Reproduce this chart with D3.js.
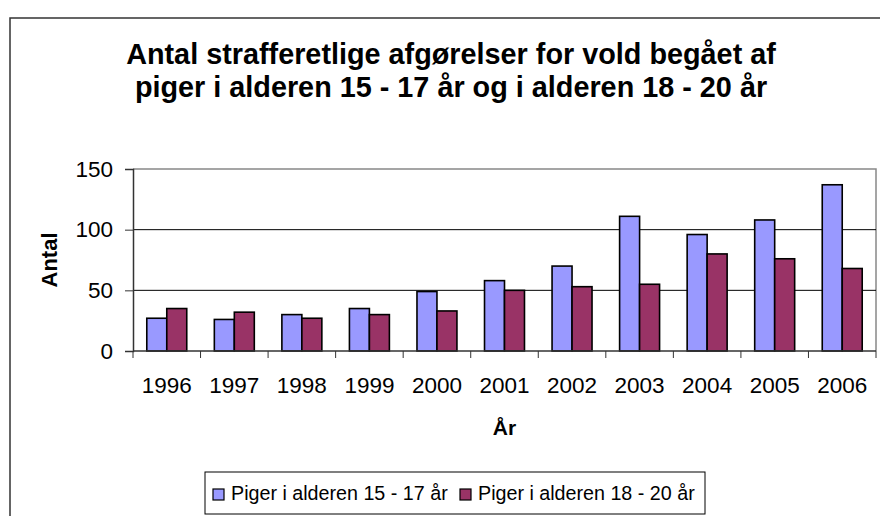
<!DOCTYPE html>
<html>
<head>
<meta charset="utf-8">
<script src="https://cdn.jsdelivr.net/npm/d3@7"></script>
<style>
  body { margin: 0; background: #fff; }
  svg { display: block; font-family: "Liberation Sans", Arial, Helvetica, sans-serif; }
</style>
</head>
<body>
<div id="chart"></div>
<script>
// Data
const years = ["1996", "1997", "1998", "1999", "2000", "2001", "2002", "2003", "2004", "2005", "2006"];
const seriesNames = ["Piger i alderen 15 - 17 år", "Piger i alderen 18 - 20 år"];
const girls15to17 = [27, 26, 30, 35, 49, 58, 70, 111, 96, 108, 137];
const girls18to20 = [35, 32, 27, 30, 33, 50, 53, 55, 80, 76, 68];
const yTicks = [0, 50, 100, 150];
const colors = ["#9999ff", "#993366"];

const width = 880, height = 516;
const plot = { left: 133, right: 876, top: 169, bottom: 351 };

const svg = d3.select("#chart").append("svg")
    .attr("width", width)
    .attr("height", height);

// outer chart frame
svg.append("rect")
    .attr("x", 10).attr("y", 18)
    .attr("width", 890).attr("height", 520)
    .attr("fill", "#fff")
    .attr("stroke", "#333").attr("stroke-width", 1.5);

// title
const title = svg.append("text")
    .attr("text-anchor", "middle")
    .attr("font-size", 28.8)
    .attr("font-weight", "bold");
title.append("tspan").attr("x", 451).attr("y", 64)
    .text("Antal strafferetlige afgørelser for vold begået af");
title.append("tspan").attr("x", 451).attr("y", 97)
    .text("piger i alderen 15 - 17 år og i alderen 18 - 20 år");

// scales
const x = d3.scaleBand()
    .domain(years)
    .range([plot.left, plot.right])
    .paddingInner(0).paddingOuter(0);

const xSub = d3.scaleBand()
    .domain([0, 1])
    .range([0, x.bandwidth()])
    .paddingInner(0)
    .paddingOuter(0.69);

const y = d3.scaleLinear()
    .domain([0, 150])
    .range([plot.bottom, plot.top]);

// plot area border (top + right)
svg.append("path")
    .attr("d", `M${plot.left},${plot.top}H${plot.right}V${plot.bottom}`)
    .attr("fill", "none")
    .attr("stroke", "#888").attr("stroke-width", 1.5);

// gridlines
svg.append("g")
    .selectAll("line")
    .data(yTicks.filter(d => d > 0 && d < 150))
    .join("line")
    .attr("x1", plot.left).attr("x2", plot.right)
    .attr("y1", d => y(d)).attr("y2", d => y(d))
    .attr("stroke", "#000").attr("stroke-width", 1);

// bars
const rows = years.map((yr, i) => ({ year: yr, values: [girls15to17[i], girls18to20[i]] }));

svg.append("g")
    .selectAll("g")
    .data(rows)
    .join("g")
    .attr("transform", d => `translate(${x(d.year)},0)`)
    .selectAll("rect")
    .data(d => d.values.map((v, s) => ({ s, v })))
    .join("rect")
    .attr("x", d => xSub(d.s))
    .attr("y", d => y(d.v))
    .attr("width", xSub.bandwidth())
    .attr("height", d => y(0) - y(d.v))
    .attr("fill", d => colors[d.s])
    .attr("stroke", "#000")
    .attr("stroke-width", 1.6);

// y axis
const yAxis = svg.append("g")
    .attr("transform", `translate(${plot.left},0)`)
    .call(d3.axisLeft(y).tickValues(yTicks).tickSize(8).tickPadding(12));
yAxis.select(".domain").attr("stroke", "#333").attr("stroke-width", 1.5);
yAxis.selectAll(".tick line").attr("stroke", "#333");
yAxis.selectAll(".tick text")
    .attr("font-size", 22.5)
    .attr("font-family", "Liberation Sans, Arial, sans-serif")
    .attr("fill", "#000");

// x axis: ticks on category boundaries
const xAxis = svg.append("g")
    .attr("transform", `translate(0,${plot.bottom})`);
xAxis.append("line")
    .attr("x1", plot.left).attr("x2", plot.right)
    .attr("stroke", "#333").attr("stroke-width", 1.5);
xAxis.selectAll(".tk")
    .data(years.concat(["end"]))
    .join("line")
    .attr("class", "tk")
    .attr("x1", (d, i) => i < years.length ? x(d) : x(years[years.length - 1]) + x.bandwidth())
    .attr("x2", (d, i) => i < years.length ? x(d) : x(years[years.length - 1]) + x.bandwidth())
    .attr("y1", 0).attr("y2", 7)
    .attr("stroke", "#333");
xAxis.selectAll(".lbl")
    .data(years)
    .join("text")
    .attr("class", "lbl")
    .attr("x", d => x(d) + x.bandwidth() / 2)
    .attr("y", 42)
    .attr("text-anchor", "middle")
    .attr("font-size", 22.5)
    .text(d => d);

// axis titles
svg.append("text")
    .attr("x", (plot.left + plot.right) / 2)
    .attr("y", 435)
    .attr("text-anchor", "middle")
    .attr("font-size", 21)
    .attr("font-weight", "bold")
    .text("År");

svg.append("text")
    .attr("transform", `translate(57,${(plot.top + plot.bottom) / 2}) rotate(-90)`)
    .attr("text-anchor", "middle")
    .attr("font-size", 22)
    .attr("font-weight", "bold")
    .text("Antal");

// legend
const legend = svg.append("g");
legend.append("rect")
    .attr("x", 205).attr("y", 472)
    .attr("width", 500).attr("height", 42)
    .attr("fill", "#fff")
    .attr("stroke", "#000").attr("stroke-width", 1);

const legendX = [213, 460];
seriesNames.forEach((name, i) => {
    legend.append("rect")
        .attr("x", legendX[i]).attr("y", 489)
        .attr("width", 11).attr("height", 11)
        .attr("fill", colors[i])
        .attr("stroke", "#000").attr("stroke-width", 1.2);
    legend.append("text")
        .attr("x", legendX[i] + 18)
        .attr("y", 500)
        .attr("font-size", 19.7)
        .text(name);
});
</script>
</body>
</html>
